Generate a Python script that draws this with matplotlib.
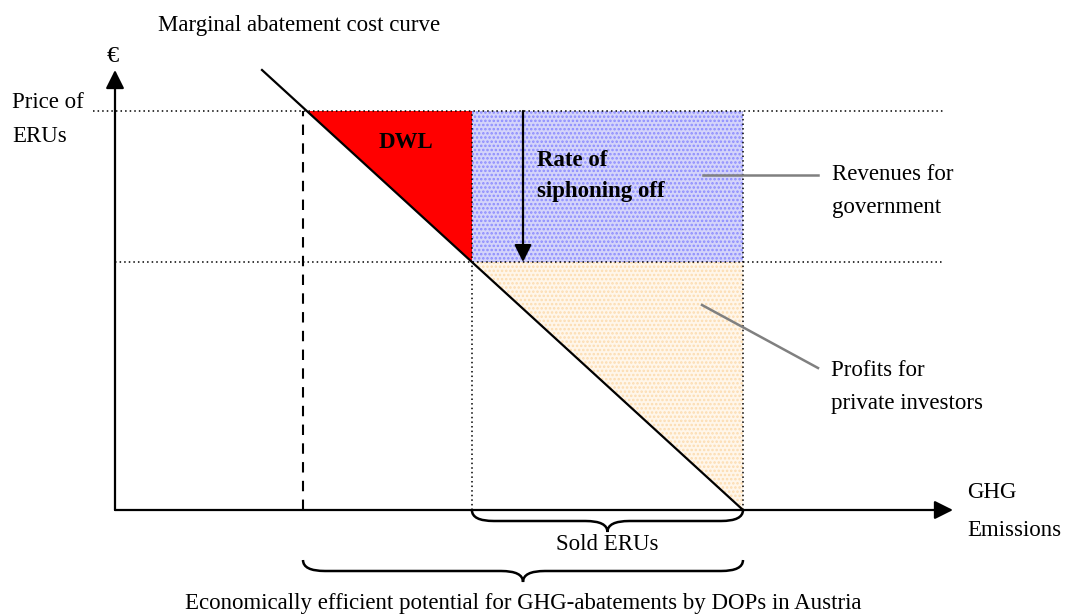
import numpy as np
import matplotlib.pyplot as plt
from matplotlib.path import Path
from matplotlib.patches import PathPatch, Polygon

plt.rcParams['font.family'] = ['Liberation Serif', 'DejaVu Serif']
plt.rcParams['hatch.linewidth'] = 1.2

# diagram values (origin = where the axes cross)
curve_x = [147, 628]
curve_y = [440, 0]
price_high = 399
price_low = 248
q_dashed = 188
x_axis_end = 838
y_axis_end = 440


def curve_at(y):
    return np.interp(y, curve_y[::-1], curve_x[::-1])


q_high = curve_at(price_high)
q_low = curve_at(price_low)
q_end = curve_x[1]

fig = plt.figure(figsize=(10.65, 6.14), dpi=100)
ax = fig.add_axes([0, 0, 1, 1])
ax.set_xlim(-115, 950)
ax.set_ylim(-104, 510)
ax.axis('off')

# areas
ax.add_patch(Polygon([(q_high, price_high), (q_low, price_high), (q_low, price_low)],
                     closed=True, facecolor='#ff0000', edgecolor='none', zorder=2))
ax.add_patch(Polygon([(q_low, price_high), (q_end, price_high), (q_end, price_low), (q_low, price_low)],
                     closed=True, facecolor='#d4d4fa', edgecolor='#8c8cff', hatch='....',
                     linewidth=0, zorder=1))
ax.add_patch(Polygon([(q_low, price_low), (q_end, price_low), (q_end, 0)],
                     closed=True, facecolor='#fff6ea', edgecolor='#fcdcb0', hatch='....',
                     linewidth=0, zorder=1))

# dotted guides
dot = dict(color='k', lw=1.1, linestyle=(0, (1, 2)), zorder=3)
ax.plot([-22, 828], [price_high, price_high], **dot)
ax.plot([0, 828], [price_low, price_low], **dot)
ax.plot([q_low, q_low], [0, price_high], **dot)
ax.plot([q_end, q_end], [0, price_high], **dot)
ax.plot([q_dashed, q_dashed], [0, price_high], color='k', lw=1.5, linestyle=(0, (5, 4)), zorder=3)

# cost curve
ax.plot(curve_x, curve_y, color='k', lw=1.6, zorder=4)

# axes arrows
arr = dict(arrowstyle='-|>', mutation_scale=28, lw=1.6, color='k', shrinkA=0, shrinkB=0)
ax.annotate('', xy=(x_axis_end, 0), xytext=(0, 0), arrowprops=arr, zorder=5)
ax.annotate('', xy=(0, y_axis_end), xytext=(0, 0), arrowprops=arr, zorder=5)

# rate of siphoning off arrow
ax.annotate('', xy=(408, price_low), xytext=(408, price_high),
            arrowprops=dict(arrowstyle='-|>', mutation_scale=26, lw=1.6, color='k',
                            shrinkA=0, shrinkB=0), zorder=5)

# leader lines
ax.plot([588, 703], [335, 335], color='#808080', lw=1.8, zorder=5)
ax.plot([587, 703], [205, 142], color='#808080', lw=1.8, zorder=5)


def brace(x0, x1, y0, h, r=22):
    xm = (x0 + x1) / 2
    ym = y0 - h / 2
    verts = [(x0, y0), (x0, ym), (x0 + r, ym), (xm - r, ym), (xm, ym), (xm, y0 - h),
             (xm, ym), (xm + r, ym), (x1 - r, ym), (x1, ym), (x1, y0)]
    codes = [Path.MOVETO, Path.CURVE3, Path.CURVE3, Path.LINETO, Path.CURVE3, Path.CURVE3,
             Path.CURVE3, Path.CURVE3, Path.LINETO, Path.CURVE3, Path.CURVE3]
    ax.add_patch(PathPatch(Path(verts, codes), facecolor='none', edgecolor='k', lw=1.8, zorder=5))


brace(q_low, q_end, 0, 22)
brace(q_dashed, q_end, -50, 22)

fs = 16.5
ax.text(43, 485, 'Marginal abatement cost curve', fontsize=fs, ha='left', va='center')
ax.text(-2, 453, '€', fontsize=fs + 1, ha='center', va='center')
ax.text(-103, 408, 'Price of', fontsize=fs, ha='left', va='center')
ax.text(-103, 374, 'ERUs', fontsize=fs, ha='left', va='center')
ax.text(291, 368, 'DWL', fontsize=fs, fontweight='bold', ha='center', va='center')
ax.text(422, 350, 'Rate of', fontsize=fs, fontweight='bold', ha='left', va='center')
ax.text(422, 318, 'siphoning off', fontsize=fs, fontweight='bold', ha='left', va='center')
ax.text(717, 335, 'Revenues for', fontsize=fs, ha='left', va='center')
ax.text(717, 302, 'government', fontsize=fs, ha='left', va='center')
ax.text(716, 140, 'Profits for', fontsize=fs, ha='left', va='center')
ax.text(716, 107, 'private investors', fontsize=fs, ha='left', va='center')
ax.text(852, 17, 'GHG', fontsize=fs, ha='left', va='center')
ax.text(852, -20, 'Emissions', fontsize=fs, ha='left', va='center')
ax.text((q_low + q_end) / 2, -35, 'Sold ERUs', fontsize=fs, ha='center', va='center')
ax.text((q_dashed + q_end) / 2, -94,
        'Economically efficient potential for GHG-abatements by DOPs in Austria',
        fontsize=fs, ha='center', va='center')

plt.savefig('out.png', dpi=100)
